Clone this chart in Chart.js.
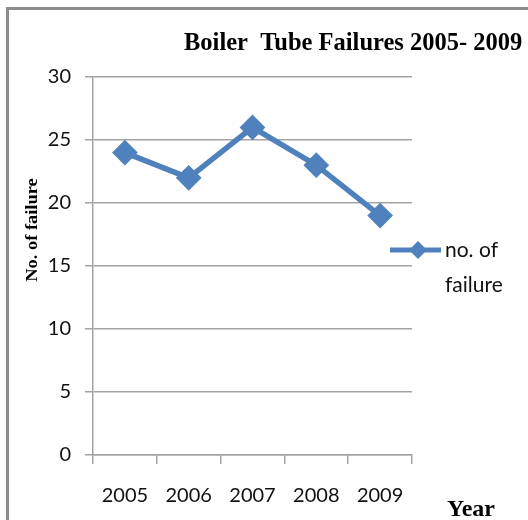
<!DOCTYPE html>
<html>
<head>
<meta charset="utf-8">
<script src="https://cdn.jsdelivr.net/npm/chart.js@4"></script>
<style>
  html, body { margin: 0; padding: 0; background: #fff; overflow: hidden; }
  #frame { position: absolute; left: 6px; top: 7px; width: 600px; height: 600px;
           border-left: 3px solid #8c8c8c; border-top: 3px solid #8c8c8c; }
  #wrap { position: absolute; left: 0; top: 0; width: 528px; height: 520px; }
</style>
</head>
<body>
<div id="frame"></div>
<div id="wrap"><canvas id="lineChart" width="528" height="520"></canvas></div>
<script>
// data
const years = ["2005", "2006", "2007", "2008", "2009"];
const failures = [24, 22, 26, 23, 19];
const seriesName = ["no. of", "failure"];
const chartTitle = "Boiler  Tube Failures 2005- 2009";
const yTitle = "No. of failure";
const xTitle = "Year";

const blue = "#4f81bd";
const gridGray = "#a3a3a3";
const serif = "'Liberation Serif', 'DejaVu Serif', serif";
const sans = "Lato, 'Open Sans', sans-serif";

// title, axis titles and the little legend on the right
const extraText = {
  id: "extraText",
  afterDraw(chart) {
    const ctx = chart.ctx;
    ctx.save();
    ctx.fillStyle = "#000";
    ctx.textBaseline = "alphabetic";

    ctx.font = "bold 24.5px " + serif;
    ctx.textAlign = "left";
    ctx.fillText(chartTitle, 184, 50);

    ctx.font = "bold 24px " + serif;
    ctx.fillText(xTitle, 447, 516);

    ctx.save();
    ctx.translate(37, 230);
    ctx.rotate(-Math.PI / 2);
    ctx.scale(1.15, 1);
    ctx.textAlign = "center";
    ctx.font = "bold 16px " + serif;
    ctx.fillText(yTitle, 0, 0);
    ctx.restore();

    // legend entry
    ctx.strokeStyle = blue;
    ctx.lineWidth = 5;
    ctx.beginPath();
    ctx.moveTo(390, 250);
    ctx.lineTo(441, 250);
    ctx.stroke();
    ctx.fillStyle = blue;
    ctx.beginPath();
    ctx.moveTo(418, 241);
    ctx.lineTo(427, 250);
    ctx.lineTo(418, 259);
    ctx.lineTo(409, 250);
    ctx.closePath();
    ctx.fill();

    ctx.fillStyle = "#111";
    ctx.font = "21px " + sans;
    ctx.fillText(seriesName[0], 445, 257);
    ctx.fillText(seriesName[1], 445, 292);
    ctx.restore();
  }
};

new Chart(document.getElementById("lineChart"), {
  type: "line",
  data: {
    labels: years,
    datasets: [{
      label: seriesName.join(" "),
      data: failures,
      borderColor: blue,
      backgroundColor: blue,
      borderWidth: 5.5,
      pointStyle: "rectRot",
      pointRadius: 9,
      pointHoverRadius: 9,
      tension: 0
    }]
  },
  options: {
    responsive: false,
    animation: false,
    events: [],
    layout: { padding: { left: 0, right: 116, top: 77, bottom: 15 } },
    plugins: {
      legend: { display: false },
      title: { display: false },
      tooltip: { enabled: false }
    },
    scales: {
      x: {
        offset: true,
        grid: { offset: true, drawOnChartArea: false, color: gridGray, lineWidth: 1.5, tickLength: 9 },
        border: { color: gridGray, width: 1.5 },
        ticks: { color: "#111", font: { family: sans, size: 20 }, padding: 20, maxRotation: 0 },
        afterFit(scale) { scale.height = 50; }
      },
      y: {
        min: 0,
        max: 30,
        ticks: { stepSize: 5, color: "#111", font: { family: sans, size: 20 }, padding: 14 },
        grid: { color: gridGray, lineWidth: 1.5, tickLength: 8 },
        border: { color: gridGray, width: 1.5 },
        afterFit(scale) { scale.width = 93; }
      }
    }
  },
  plugins: [extraText]
});
</script>
</body>
</html>
